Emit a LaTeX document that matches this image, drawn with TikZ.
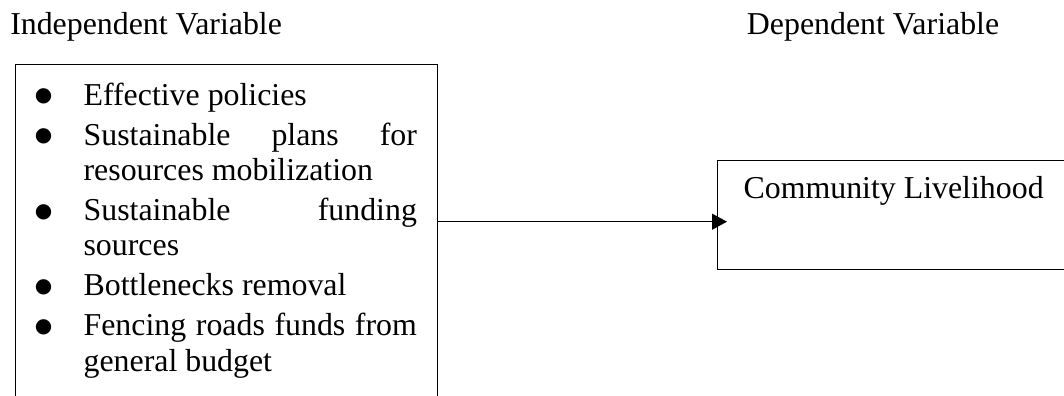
\documentclass[tikz,border=0pt]{standalone}
\usepackage{fontspec}
\setmainfont{Liberation Serif}
\newfontfamily\symfont{DejaVu Sans}
\usetikzlibrary{arrows.meta}
\tikzset{
  box/.style={draw=black, line width=0.8pt, inner sep=0pt, anchor=north west},
  lbl/.style={anchor=base west, inner sep=0pt, font=\fontsize{23.9pt}{26.6pt}\selectfont},
  conn/.style={line width=0.8pt, -{Triangle[length=11.25pt,width=12pt]}},
}
\newcommand{\bigbullet}{\raisebox{2.6pt}{\symfont\fontsize{15pt}{15pt}\selectfont ●}}
\newcommand{\bitem}[1]{\noindent\llap{\makebox[\leftskip][l]{\hspace{-1pt}\bigbullet}}#1\par}
\begin{document}
\begin{tikzpicture}[x=0.75pt,y=-0.75pt]
\useasboundingbox (0,0) rectangle (1064,396);
\clip (0,0) rectangle (1064,396);
\node[lbl] (ivlabel) at (10,34) {Independent Variable};
\node[lbl] (dvlabel) at (746.7,34) {Dependent Variable};
\node[box, minimum width=316.5pt, minimum height=270pt] (ivbox) at (15,64) {};
\node[box, minimum width=277.5pt, minimum height=81.75pt] (dvbox) at (717,160) {};
\node[lbl] (ivtext) at (36,105) {\begin{minipage}[t]{285.5pt}%
\setlength{\leftskip}{35.5pt}\setlength{\parskip}{3.4pt}%
\tolerance=10000 \hyphenpenalty=10000 \exhyphenpenalty=10000
\bitem{Effective policies}
\bitem{Sustainable plans for\linebreak resources mobilization}
\bitem{Sustainable funding\linebreak sources}
\bitem{Bottlenecks removal}
\bitem{Fencing roads funds from general budget}
\end{minipage}};
\node[lbl] (dvtext) at (743.3,198.3) {Community Livelihood};
\coordinate (arr) at (0,221.7);
\draw[conn] (ivbox.east |- arr) -- ([xshift=7.5pt]dvbox.west |- arr);
\end{tikzpicture}
\end{document}
